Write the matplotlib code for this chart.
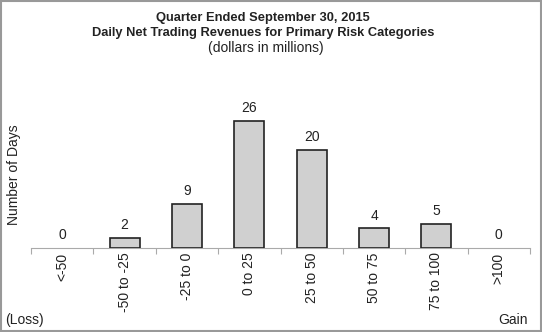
import matplotlib
matplotlib.use("Agg")
import matplotlib.pyplot as plt
from matplotlib.patches import Rectangle

plt.rcParams['font.family'] = ['Liberation Sans', 'DejaVu Sans']

categories = ["<-50", "-50 to -25", "-25 to 0", "0 to 25", "25 to 50", "50 to 75", "75 to 100", ">100"]
days = [0, 2, 9, 26, 20, 4, 5, 0]

fig = plt.figure(figsize=(5.42, 3.32), dpi=100)
W, H = 542, 332
left, right, bottom, top = 31, 530, 248, 100
ax = fig.add_axes([left / W, 1 - bottom / H, (right - left) / W, (bottom - top) / H])

x = list(range(len(categories)))
lws = [1.2 if v > 0 else 0 for v in days]
ax.bar(x, days, width=0.48, color='#d0d0d0', edgecolor='#222222', linewidth=lws, zorder=3)
for xi, v in zip(x, days):
    ax.text(xi, v + 1.2, str(v), ha='center', va='bottom', fontsize=10, color='#222222')

ax.set_xlim(-0.5, len(categories) - 0.5)
ax.set_ylim(0, 30.3)
for s in ['top', 'right', 'left']:
    ax.spines[s].set_visible(False)
ax.spines['bottom'].set_color('#aaaaaa')
ax.set_yticks([])
ax.set_xticks([i - 0.5 for i in range(len(categories) + 1)])
ax.set_xticklabels([])
ax.tick_params(axis='x', length=4, color='#aaaaaa', direction='out')
for xi, c in zip(x, categories):
    ax.text(xi, -0.03, c, transform=ax.get_xaxis_transform(), rotation=90,
            ha='center', va='top', fontsize=10, color='#222222')

cx = 263 / W
fig.text(14 / W, 1 - 175 / H, "Number of Days", rotation=90, ha='center', va='center', fontsize=10, color='#222222')
fig.text(cx, 1 - 18 / H, "Quarter Ended September 30, 2015", ha='center', va='center', fontsize=9.3, fontweight='bold', color='#222222')
fig.text(cx, 1 - 33 / H, "Daily Net Trading Revenues for Primary Risk Categories", ha='center', va='center', fontsize=9.3, fontweight='bold', color='#222222')
fig.text(266 / W, 1 - 48 / H, "(dollars in millions)", ha='center', va='center', fontsize=10, color='#222222')
fig.text(5 / W, 1 - 320 / H, "(Loss)", ha='left', va='center', fontsize=10, color='#222222')
fig.text(528 / W, 1 - 320 / H, "Gain", ha='right', va='center', fontsize=10, color='#222222')

fig.patches.append(Rectangle((0.002, 0.003), 0.996, 0.994, transform=fig.transFigure,
                             fill=False, edgecolor='#999999', linewidth=1.5))

fig.savefig("out.png", dpi=100)
